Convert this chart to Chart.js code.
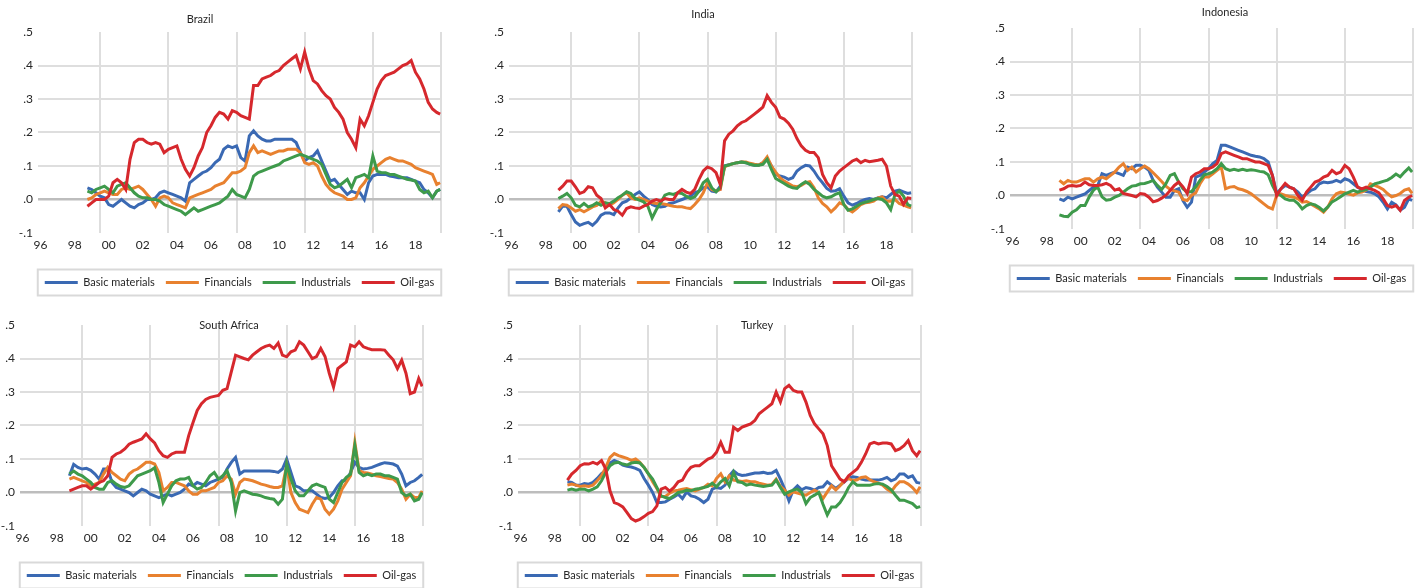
<!DOCTYPE html>
<html>
<head>
<meta charset="utf-8">
<script src="https://cdn.jsdelivr.net/npm/chart.js@4.4.1/dist/chart.umd.min.js"></script>
<style>
  html, body { margin: 0; padding: 0; background: #fff; overflow: hidden; }
  body { width: 1425px; height: 588px; position: relative; }
  canvas { position: absolute; }
</style>
</head>
<body>
<canvas id="brazil" width="500" height="300" style="left:-12px;top:0px"></canvas>
<canvas id="india" width="500" height="300" style="left:459px;top:0px"></canvas>
<canvas id="indonesia" width="500" height="300" style="left:960px;top:-4px"></canvas>
<canvas id="safrica" width="500" height="300" style="left:-30px;top:293px"></canvas>
<canvas id="turkey" width="500" height="300" style="left:468px;top:293px"></canvas>
<script>
const dates = [
  1999.25, 1999.5, 1999.75,
  2000, 2000.25, 2000.5, 2000.75, 2001, 2001.25, 2001.5, 2001.75,
  2002, 2002.25, 2002.5, 2002.75, 2003, 2003.25, 2003.5, 2003.75,
  2004, 2004.25, 2004.5, 2004.75, 2005, 2005.25, 2005.5, 2005.75,
  2006, 2006.25, 2006.5, 2006.75, 2007, 2007.25, 2007.5, 2007.75,
  2008, 2008.25, 2008.5, 2008.75, 2009, 2009.25, 2009.5, 2009.75,
  2010, 2010.25, 2010.5, 2010.75, 2011, 2011.25, 2011.5, 2011.75,
  2012, 2012.25, 2012.5, 2012.75, 2013, 2013.25, 2013.5, 2013.75,
  2014, 2014.25, 2014.5, 2014.75, 2015, 2015.25, 2015.5, 2015.75,
  2016, 2016.25, 2016.5, 2016.75, 2017, 2017.25, 2017.5, 2017.75,
  2018, 2018.25, 2018.5, 2018.75, 2019, 2019.25, 2019.5, 2019.75, 2019.95
];

const seriesNames = ['Basic materials', 'Financials', 'Industrials', 'Oil-gas'];
const seriesColors = ['#3A69B3', '#E8812F', '#3E9A4B', '#D6282D'];

const yTicks = [-0.1, 0, 0.1, 0.2, 0.3, 0.4, 0.5];
const yTickLabels = ['-.1', '.0', '.1', '.2', '.3', '.4', '.5'];
const xTickYears = [1996, 1998, 2000, 2002, 2004, 2006, 2008, 2010, 2012, 2014, 2016, 2018];
const xTickLabels = ['96', '98', '00', '02', '04', '06', '08', '10', '12', '14', '16', '18'];
const gridYears = [2000, 2004, 2008, 2012, 2016, 2020];

// Brazil
const brazilBasic = [
  0.035, 0.03, 0.02,
  0.01, 0.005, -0.015, -0.02,
  -0.01, 0.0, -0.01, -0.02,
  -0.025, -0.015, -0.01, 0.0,
  0.0, 0.005, 0.02, 0.025,
  0.02, 0.015, 0.01, 0.005,
  -0.005, 0.05, 0.06, 0.07,
  0.08, 0.085, 0.095, 0.11,
  0.12, 0.15, 0.16, 0.155,
  0.16, 0.125, 0.115, 0.19,
  0.205, 0.19, 0.18, 0.175,
  0.175, 0.18, 0.18, 0.18,
  0.18, 0.18, 0.17, 0.14,
  0.115, 0.125, 0.13, 0.145,
  0.115, 0.085, 0.055, 0.06,
  0.045, 0.03, 0.015, 0.025,
  0.02, 0.02, 0.0, 0.05,
  0.07, 0.075, 0.075, 0.075,
  0.07, 0.068, 0.065, 0.065,
  0.065, 0.06, 0.055, 0.05,
  0.03, 0.02, 0.005, 0.025, 0.03
];
const brazilFin = [
  0.0, 0.005, 0.015,
  0.02, 0.025, 0.02, 0.015,
  0.015, 0.03, 0.035, 0.03,
  0.035, 0.04, 0.03, 0.015,
  0.0, -0.02, 0.005, 0.01,
  0.005, -0.01, -0.015, -0.02,
  -0.025, 0.005, 0.01, 0.015,
  0.02, 0.025, 0.03, 0.04,
  0.045, 0.05, 0.065, 0.08,
  0.08, 0.085, 0.095, 0.14,
  0.16, 0.14, 0.145, 0.14,
  0.135, 0.14, 0.145, 0.145,
  0.15, 0.15, 0.15, 0.14,
  0.11, 0.105, 0.11, 0.1,
  0.07, 0.045, 0.03, 0.02,
  0.015, 0.01, 0.0, 0.0,
  0.005, 0.035, 0.05, 0.07,
  0.09, 0.1, 0.11, 0.12,
  0.125, 0.12, 0.115, 0.115,
  0.11, 0.105, 0.095, 0.09,
  0.085, 0.08, 0.075, 0.045, 0.05
];
const brazilInd = [
  0.025, 0.02, 0.03,
  0.035, 0.04, 0.03, 0.02,
  0.04, 0.045, 0.05, 0.035,
  0.02, 0.01, 0.005, 0.005,
  0.0, 0.0, -0.005, -0.015,
  -0.02, -0.025, -0.03, -0.035,
  -0.045, -0.035, -0.025, -0.035,
  -0.03, -0.025, -0.02, -0.015,
  -0.01, 0.0, 0.01, 0.03,
  0.015, 0.01, 0.005, 0.03,
  0.07, 0.08, 0.085, 0.09,
  0.095, 0.1, 0.105, 0.115,
  0.12, 0.125, 0.13, 0.135,
  0.13, 0.125, 0.12, 0.115,
  0.105, 0.075, 0.045, 0.035,
  0.04, 0.05, 0.06, 0.035,
  0.065, 0.07, 0.075, 0.065,
  0.13, 0.085, 0.08, 0.08,
  0.075, 0.075, 0.07, 0.065,
  0.06, 0.058, 0.055, 0.03,
  0.02, 0.025, 0.005, 0.025, 0.03
];
const brazilOil = [
  -0.02, -0.01, 0.0,
  0.0, 0.0, 0.01, 0.05,
  0.06, 0.05, 0.03, 0.12,
  0.17, 0.18, 0.18, 0.17,
  0.165, 0.17, 0.165, 0.14,
  0.15, 0.155, 0.16, 0.12,
  0.09, 0.07, 0.095, 0.13,
  0.155, 0.2, 0.22, 0.245,
  0.26, 0.255, 0.24, 0.265,
  0.26, 0.25, 0.245, 0.24,
  0.34, 0.34, 0.36, 0.365,
  0.37, 0.38, 0.385, 0.4,
  0.41, 0.42, 0.43, 0.39,
  0.44, 0.39, 0.355, 0.345,
  0.325, 0.31, 0.3, 0.275,
  0.26, 0.24, 0.2, 0.18,
  0.155, 0.24, 0.22, 0.25,
  0.29, 0.33, 0.355, 0.37,
  0.375, 0.38, 0.39, 0.4,
  0.405, 0.415, 0.38, 0.36,
  0.33, 0.29, 0.27, 0.26, 0.255
];

// India
const indiaBasic = [
  -0.037, -0.02, -0.02,
  -0.045, -0.067, -0.077, -0.072,
  -0.068, -0.077, -0.065, -0.047,
  -0.04, -0.04, -0.045, -0.025,
  -0.01, -0.005, 0.005, 0.015,
  0.023, 0.01, 0.0, -0.015,
  -0.02, -0.022, -0.02, -0.012,
  -0.01, -0.005, 0.0, 0.005,
  0.01, 0.02, 0.025, 0.035,
  0.038, 0.025, 0.023, 0.04,
  0.1, 0.104, 0.107, 0.11,
  0.112, 0.11, 0.105, 0.102,
  0.102, 0.11, 0.122, 0.1,
  0.075, 0.07, 0.067, 0.06,
  0.065, 0.085, 0.095, 0.102,
  0.1, 0.085, 0.065, 0.05,
  0.033, 0.025, 0.026, 0.032,
  0.01, -0.01, -0.017, -0.012,
  -0.005, 0.0, 0.003, 0.0,
  0.005, 0.008, 0.005, 0.015,
  0.025, 0.028, 0.023, 0.018, 0.02
];
const indiaFin = [
  -0.027, -0.015, -0.017,
  -0.025, -0.035, -0.03, -0.037,
  -0.03, -0.022, -0.018, -0.005,
  -0.01, -0.017, -0.01, 0.0,
  0.013, 0.02, 0.005, 0.0,
  0.005, 0.0, -0.005, -0.01,
  -0.012, -0.012, -0.014, -0.017,
  -0.02, -0.022, -0.022, -0.025,
  -0.027, -0.015, 0.0, 0.02,
  0.05, 0.03, 0.025, 0.03,
  0.097, 0.103, 0.107, 0.11,
  0.112, 0.112, 0.108, 0.105,
  0.103, 0.11, 0.127, 0.1,
  0.082, 0.065, 0.055, 0.048,
  0.04, 0.038, 0.042, 0.05,
  0.053, 0.035, 0.005, -0.012,
  -0.022, -0.037, -0.025, -0.01,
  -0.015, -0.03, -0.037, -0.027,
  -0.015, -0.01, -0.008, -0.005,
  0.005, 0.008, -0.005, -0.005,
  0.0, -0.012, -0.017, -0.022, -0.025
];
const indiaInd = [
  0.003, 0.01, 0.018,
  0.005, -0.017, -0.022, -0.012,
  -0.022, -0.018, -0.01, -0.017,
  -0.01, -0.012, -0.005, 0.005,
  0.013, 0.023, 0.018, 0.003,
  -0.002, -0.007, -0.02, -0.055,
  -0.03, -0.01, 0.013, 0.018,
  0.015, 0.02, 0.018, 0.01,
  0.003, 0.008, 0.025, 0.05,
  0.06, 0.035, 0.023, 0.035,
  0.1, 0.103, 0.107, 0.11,
  0.112, 0.11, 0.105, 0.102,
  0.102, 0.105, 0.12, 0.09,
  0.063, 0.055, 0.048, 0.04,
  0.035, 0.033, 0.045, 0.053,
  0.045, 0.03, 0.02, 0.01,
  0.005, 0.008, 0.015, 0.02,
  -0.015, -0.032, -0.028, -0.02,
  -0.012, -0.008, -0.005, 0.0,
  0.003, 0.0, -0.01, -0.03,
  0.015, 0.025, 0.01, -0.015, -0.02
];
const indiaOil = [
  0.028, 0.04, 0.055,
  0.055, 0.038, 0.018, 0.023,
  0.038, 0.035, 0.013, 0.003,
  -0.025, -0.015, -0.03, -0.035,
  -0.047, -0.027, -0.022, -0.025,
  -0.027, -0.02, -0.015, -0.005,
  0.0, -0.005, 0.003, 0.0,
  0.0, 0.02, 0.03, 0.022,
  0.018, 0.03, 0.06, 0.085,
  0.097, 0.092, 0.08, 0.045,
  0.175, 0.195, 0.205, 0.22,
  0.23, 0.235, 0.245, 0.255,
  0.265, 0.276, 0.31, 0.29,
  0.275, 0.246, 0.24, 0.228,
  0.21, 0.182, 0.16, 0.147,
  0.14, 0.14, 0.125, 0.075,
  0.05, 0.035, 0.07, 0.085,
  0.095, 0.105, 0.115, 0.12,
  0.11, 0.117, 0.113, 0.115,
  0.117, 0.12, 0.1, 0.04,
  0.015, 0.01, -0.015, 0.005, 0.003
];

// Indonesia
const indonesiaBasic = [
  -0.01, -0.015, -0.005,
  -0.01, -0.005, 0.0, 0.005,
  0.015, 0.025, 0.03, 0.065,
  0.06, 0.065, 0.07, 0.065,
  0.06, 0.085, 0.08, 0.09,
  0.09, 0.085, 0.075, 0.045,
  0.025, 0.01, -0.005, -0.005,
  0.015, 0.02, -0.015, -0.035,
  -0.02, 0.055, 0.06, 0.07,
  0.08, 0.095, 0.105, 0.15,
  0.15, 0.145, 0.14, 0.135,
  0.13, 0.125, 0.12, 0.117,
  0.115, 0.11, 0.1, 0.06,
  0.006, 0.02, 0.03, 0.025,
  0.02, 0.01, -0.005, 0.005,
  0.015, 0.02, 0.035, 0.04,
  0.038, 0.04, 0.045, 0.04,
  0.05, 0.045, 0.035, 0.025,
  0.018, 0.012, 0.01, 0.005,
  -0.004, -0.02, -0.04, -0.02,
  -0.028, -0.044, -0.035, -0.01, -0.015
];
const indonesiaFin = [
  0.045, 0.035, 0.045,
  0.04, 0.04, 0.045, 0.05,
  0.05, 0.04, 0.05, 0.055,
  0.05, 0.06, 0.07, 0.085,
  0.095, 0.075, 0.085, 0.07,
  0.08, 0.088, 0.08, 0.068,
  0.055, 0.042, 0.028, 0.018,
  0.014, 0.01, -0.012, -0.015,
  0.0, 0.008, 0.035, 0.055,
  0.055, 0.065, 0.075, 0.085,
  0.02, 0.025, 0.027, 0.02,
  0.017, 0.012, 0.005, -0.005,
  -0.015, -0.025, -0.035, -0.04,
  0.0, 0.005, 0.0, -0.003,
  -0.005, -0.01, -0.02, -0.018,
  -0.025, -0.033, -0.04, -0.05,
  -0.035, -0.01, 0.005, 0.01,
  0.008, 0.004, 0.001, 0.008,
  0.01, 0.016, 0.035, 0.03,
  0.025, 0.018, 0.006, -0.004,
  0.0, 0.006, 0.016, 0.02, 0.006
];
const indonesiaInd = [
  -0.058, -0.062, -0.063,
  -0.05, -0.043, -0.03, -0.03,
  -0.004, 0.016, 0.025, -0.004,
  -0.014, -0.012, -0.005, 0.0,
  0.01, 0.02, 0.028, 0.03,
  0.035, 0.036, 0.04, 0.045,
  0.03, 0.018, 0.035, 0.06,
  0.065, 0.04, 0.02, 0.01,
  0.012, 0.026, 0.045, 0.062,
  0.065, 0.07, 0.08, 0.095,
  0.08, 0.075, 0.078, 0.075,
  0.078, 0.075, 0.077, 0.075,
  0.072, 0.07, 0.062, 0.03,
  0.006, 0.0, -0.01, -0.014,
  -0.014, -0.024, -0.04, -0.03,
  -0.025, -0.028, -0.036, -0.046,
  -0.034, -0.019, -0.012, -0.004,
  0.005, 0.01, 0.015, 0.01,
  0.015, 0.018, 0.025, 0.035,
  0.038, 0.042, 0.046, 0.054,
  0.064, 0.056, 0.07, 0.082, 0.07
];
const indonesiaOil = [
  0.016, 0.02, 0.028,
  0.03, 0.028, 0.03, 0.04,
  0.032, 0.03, 0.03, 0.032,
  0.036, 0.03, 0.016, 0.02,
  0.006, 0.003, 0.0, -0.004,
  0.006, 0.004, -0.005, -0.019,
  -0.015, -0.008, 0.001, 0.015,
  0.03, 0.04, 0.026, 0.006,
  0.055, 0.065, 0.07, 0.08,
  0.08, 0.085, 0.095, 0.125,
  0.13, 0.125, 0.12, 0.115,
  0.11, 0.11, 0.105, 0.1,
  0.1, 0.095, 0.09, 0.06,
  0.0, 0.02, 0.036, 0.025,
  0.02, 0.0, -0.014, 0.01,
  0.025, 0.04, 0.045, 0.055,
  0.06, 0.075, 0.065, 0.07,
  0.09, 0.08, 0.055, 0.025,
  0.02, 0.025, 0.02, 0.015,
  0.008, -0.01, -0.03, -0.035,
  -0.03, -0.044, -0.015, -0.005, 0.0
];

// South Africa
const saBasic = [
  0.05, 0.084, 0.075,
  0.07, 0.072, 0.066, 0.055,
  0.04, 0.07, 0.07, 0.03,
  0.015, 0.01, 0.005, 0.0,
  -0.01, 0.0, 0.01, 0.005,
  -0.005, -0.01, -0.015, -0.01,
  -0.005, -0.01, -0.005, 0.0,
  0.01, 0.025, 0.02, 0.03,
  0.025, 0.02, 0.03, 0.035,
  0.04, 0.045, 0.07, 0.09,
  0.105, 0.055, 0.064, 0.064,
  0.064, 0.064, 0.064, 0.064,
  0.064, 0.063, 0.06, 0.07,
  0.1, 0.06, 0.02, 0.015,
  0.005, 0.005, 0.005, -0.005,
  -0.015, -0.018, -0.015, 0.0,
  0.02, 0.035, 0.035, 0.06,
  0.09, 0.075, 0.07, 0.072,
  0.075, 0.08, 0.085, 0.089,
  0.087, 0.085, 0.079, 0.055,
  0.02, 0.03, 0.035, 0.045, 0.054
];
const saFin = [
  0.04, 0.045, 0.04,
  0.035, 0.03, 0.02, 0.025,
  0.03, 0.055, 0.075, 0.06,
  0.05, 0.04, 0.035, 0.055,
  0.065, 0.07, 0.08, 0.09,
  0.09, 0.085, 0.06, 0.005,
  0.015, 0.03, 0.03, 0.025,
  0.02, 0.005, -0.005, -0.005,
  0.005, 0.005, 0.01, 0.015,
  0.03, 0.035, 0.05, 0.04,
  -0.005, 0.03, 0.04, 0.038,
  0.035, 0.03, 0.025, 0.022,
  0.018, 0.015, 0.015, 0.02,
  0.08, 0.0, -0.03, -0.05,
  -0.055, -0.06, -0.035, -0.015,
  -0.02, -0.05, -0.065, -0.05,
  -0.025, 0.01, 0.03, 0.05,
  0.15, 0.065, 0.06, 0.058,
  0.055, 0.05, 0.048, 0.045,
  0.042, 0.04, 0.03, 0.01,
  -0.02, -0.005, -0.015, -0.015, 0.005
];
const saInd = [
  0.055, 0.064, 0.055,
  0.05, 0.04, 0.03, 0.015,
  0.01, 0.01, 0.03, 0.035,
  0.025, 0.018, 0.015, 0.02,
  0.035, 0.05, 0.055, 0.06,
  0.065, 0.074, 0.03, -0.03,
  -0.005, 0.02, 0.035, 0.04,
  0.04, 0.045, 0.02, 0.01,
  0.015, 0.03, 0.05, 0.06,
  0.04, 0.05, 0.065, 0.03,
  -0.055, 0.0, 0.005, 0.0,
  -0.005, -0.007, -0.01, -0.015,
  -0.018, -0.02, -0.035, -0.02,
  0.085, 0.04, 0.005, -0.01,
  -0.01, 0.005, 0.02, 0.025,
  0.02, 0.015, -0.02, -0.03,
  0.0, 0.03, 0.045, 0.055,
  0.14, 0.06, 0.05, 0.055,
  0.05, 0.055, 0.055, 0.05,
  0.05, 0.045, 0.04, 0.0,
  -0.01, -0.005, -0.025, -0.02, 0.0
];
const saOil = [
  0.005, 0.01, 0.015,
  0.02, 0.02, 0.01, 0.02,
  0.03, 0.035, 0.05, 0.105,
  0.115, 0.12, 0.13, 0.144,
  0.15, 0.155, 0.16, 0.175,
  0.16, 0.148, 0.125, 0.11,
  0.105, 0.115, 0.12, 0.12,
  0.12, 0.17, 0.208, 0.245,
  0.265, 0.278, 0.284, 0.287,
  0.29, 0.305, 0.31, 0.36,
  0.41, 0.405, 0.4, 0.396,
  0.41, 0.42, 0.43, 0.436,
  0.44, 0.43, 0.446, 0.41,
  0.405, 0.42, 0.425, 0.45,
  0.44, 0.42, 0.4, 0.406,
  0.43, 0.406, 0.356, 0.315,
  0.37, 0.38, 0.39, 0.44,
  0.435, 0.45, 0.435, 0.43,
  0.426, 0.426, 0.426, 0.425,
  0.41, 0.396, 0.37, 0.395,
  0.356, 0.295, 0.3, 0.34, 0.317
];

// Turkey
const turkeyBasic = [
  0.032, 0.03, 0.022,
  0.022, 0.027, 0.025, 0.03,
  0.042, 0.056, 0.065, 0.088,
  0.096, 0.09, 0.082, 0.078,
  0.076, 0.072, 0.066, 0.042,
  0.022, 0.0, -0.03, -0.03,
  -0.028, -0.02, -0.013, -0.005,
  -0.018, 0.002, -0.01, -0.013,
  -0.02, -0.03, -0.02, 0.01,
  0.015, 0.012, 0.022, 0.05,
  0.065, 0.055, 0.051, 0.052,
  0.055, 0.058, 0.058, 0.06,
  0.057, 0.058, 0.066, 0.04,
  0.01, -0.025, 0.007, 0.02,
  0.008, 0.015, 0.012, 0.007,
  0.015, 0.017, 0.032, 0.022,
  0.012, 0.022, 0.032, 0.042,
  0.047, 0.045, 0.04, 0.037,
  0.037, 0.037, 0.037, 0.04,
  0.045, 0.035, 0.04, 0.055,
  0.055, 0.045, 0.05, 0.03, 0.028
];
const turkeyFin = [
  0.022, 0.025, 0.022,
  0.018, 0.02, 0.018, 0.022,
  0.035, 0.05, 0.075, 0.105,
  0.116, 0.11, 0.106, 0.102,
  0.096, 0.1, 0.09, 0.075,
  0.056, 0.032, 0.012, -0.012,
  -0.012, -0.002, 0.005, 0.007,
  0.01, 0.012, 0.008, 0.005,
  0.01, 0.015, 0.025, 0.02,
  0.042, 0.056, 0.032, 0.05,
  0.037, 0.035, 0.033, 0.035,
  0.032, 0.032, 0.028, 0.025,
  0.022, 0.024, 0.04, 0.018,
  0.007, -0.008, 0.002, -0.002,
  -0.005, -0.008, 0.0, 0.007,
  0.0, -0.018, 0.002, 0.02,
  0.008, 0.02, 0.035, 0.042,
  0.035, 0.038, 0.045, 0.047,
  0.038, 0.032, 0.028, 0.022,
  0.01, 0.002, 0.02, 0.032,
  0.032, 0.025, 0.015, 0.0, 0.017
];
const turkeyInd = [
  0.007, 0.01, 0.007,
  0.01, 0.01, 0.005, 0.01,
  0.017, 0.035, 0.06, 0.08,
  0.088, 0.09, 0.085, 0.082,
  0.088, 0.09, 0.088, 0.075,
  0.056, 0.04, 0.015, -0.01,
  -0.015, -0.018, -0.01, 0.0,
  0.002, 0.007, 0.005, 0.01,
  0.012, 0.015, 0.018, 0.028,
  0.017, 0.032, 0.042, 0.02,
  0.06, 0.032, 0.03, 0.022,
  0.025, 0.022, 0.02, 0.018,
  0.02, 0.022, 0.037, 0.015,
  -0.005, 0.002, 0.007, 0.01,
  0.0, -0.033, -0.015, -0.008,
  0.0, -0.035, -0.067, -0.043,
  -0.043, -0.03, -0.01, 0.015,
  0.032, 0.022, 0.022, 0.022,
  0.022, 0.025, 0.027, 0.025,
  0.018, 0.008, -0.008, -0.023,
  -0.023, -0.028, -0.033, -0.045, -0.042
];
const turkeyOil = [
  0.037, 0.055, 0.066,
  0.08, 0.086, 0.085, 0.09,
  0.085, 0.095, 0.07, 0.005,
  -0.03, -0.035, -0.043, -0.06,
  -0.078, -0.085, -0.08, -0.072,
  -0.062, -0.057, -0.04, 0.01,
  0.015, 0.004, 0.015, 0.032,
  0.037, 0.06, 0.075, 0.08,
  0.08, 0.09, 0.1, 0.105,
  0.12, 0.15, 0.12, 0.12,
  0.195, 0.185, 0.195, 0.2,
  0.205, 0.215, 0.235, 0.245,
  0.255, 0.265, 0.3, 0.27,
  0.31, 0.32, 0.305, 0.3,
  0.3, 0.27, 0.23, 0.205,
  0.19, 0.175, 0.14, 0.08,
  0.06, 0.04, 0.032, 0.05,
  0.06, 0.07, 0.09, 0.115,
  0.145, 0.15, 0.145, 0.148,
  0.148, 0.145, 0.125, 0.13,
  0.14, 0.155, 0.125, 0.11, 0.125
];

const FONT = 'Lato, "Liberation Sans", sans-serif';
const TEXT = '#262626';

const panels = [
  { id: 'brazil', title: 'Brazil', tx: 212, ty: 19, series: [brazilBasic, brazilFin, brazilInd, brazilOil] },
  { id: 'india', title: 'India', tx: 244, ty: 14, series: [indiaBasic, indiaFin, indiaInd, indiaOil] },
  { id: 'indonesia', title: 'Indonesia', tx: 265, ty: 16, series: [indonesiaBasic, indonesiaFin, indonesiaInd, indonesiaOil] },
  { id: 'safrica', title: 'South Africa', tx: 259, ty: 32, series: [saBasic, saFin, saInd, saOil] },
  { id: 'turkey', title: 'Turkey', tx: 289, ty: 32, series: [turkeyBasic, turkeyFin, turkeyInd, turkeyOil] }
];

// title text placed where the original has it (not centred on the plot)
const panelTitle = {
  id: 'panelTitle',
  afterDraw(chart, args, opts) {
    const ctx = chart.ctx;
    ctx.save();
    ctx.font = '11px ' + FONT;
    ctx.fillStyle = TEXT;
    ctx.textAlign = 'center';
    ctx.textBaseline = 'middle';
    ctx.fillText(opts.text, opts.x, opts.y);
    ctx.restore();
  }
};

// thin grey frame around the legend row
const legendFrame = {
  id: 'legendFrame',
  afterDraw(chart) {
    const boxes = chart.legend.legendHitBoxes;
    if (!boxes || !boxes.length) return;
    const left = Math.min(...boxes.map(b => b.left)) - 7;
    const right = Math.max(...boxes.map(b => b.left + b.width)) + 7;
    const top = Math.min(...boxes.map(b => b.top)) - 7.5;
    const bottom = Math.max(...boxes.map(b => b.top + b.height)) + 7.5;
    const ctx = chart.ctx;
    ctx.save();
    ctx.strokeStyle = '#d9d9d9';
    ctx.lineWidth = 2;
    ctx.strokeRect(left, top, right - left, bottom - top);
    ctx.restore();
  }
};

function near(a, b) { return Math.abs(a - b) < 1e-6; }

function makeChart(p) {
  new Chart(document.getElementById(p.id), {
    type: 'line',
    data: {
      datasets: p.series.map((vals, i) => ({
        label: seriesNames[i],
        data: vals.map((v, j) => ({ x: dates[j], y: v })),
        borderColor: seriesColors[i],
        backgroundColor: seriesColors[i],
        borderWidth: 3,
        pointRadius: 0,
        tension: 0,
        order: 4 - i
      }))
    },
    options: {
      responsive: false,
      animation: false,
      events: [],
      layout: { padding: { left: 30, right: 27, top: 32, bottom: 2 } },
      plugins: {
        tooltip: { enabled: false },
        legend: {
          position: 'bottom',
          labels: {
            boxWidth: 33,
            boxHeight: 3,
            padding: 11,
            color: TEXT,
            font: { family: FONT, size: 11 },
            sort: (a, b) => a.datasetIndex - b.datasetIndex,
            generateLabels: chart => Chart.defaults.plugins.legend.labels.generateLabels(chart)
              .map(l => Object.assign(l, { lineWidth: 0 }))
          }
        },
        panelTitle: { text: p.title, x: p.tx, y: p.ty }
      },
      scales: {
        x: {
          type: 'linear',
          position: 'bottom',
          min: 1996.35,
          max: 2020,
          afterBuildTicks: s => { s.ticks = xTickYears.map(y => ({ value: y + 0.5 })); },
          afterFit: s => { s.height = 33; },
          ticks: {
            autoSkip: false,
            maxRotation: 0,
            padding: 5,
            color: TEXT,
            font: { family: FONT, size: 12 },
            callback: (v, i) => xTickLabels[i]
          },
          grid: { display: false, drawTicks: false },
          border: { display: false }
        },
        xg: {
          type: 'linear',
          position: 'bottom',
          min: 1996.35,
          max: 2020,
          afterBuildTicks: s => { s.ticks = gridYears.map(y => ({ value: y })); },
          afterFit: s => { s.height = 0; },
          ticks: { display: false },
          grid: { color: '#dedede', lineWidth: 2, drawTicks: false },
          border: { display: false }
        },
        y: {
          type: 'linear',
          min: -0.1,
          max: 0.5,
          afterBuildTicks: s => { s.ticks = yTicks.map(v => ({ value: v })); },
          afterFit: s => { s.width = 20; },
          ticks: {
            padding: 5,
            color: TEXT,
            font: { family: FONT, size: 12 },
            callback: (v, i) => yTickLabels[i]
          },
          grid: {
            drawTicks: false,
            color: c => {
              const v = c.tick ? c.tick.value : null;
              if (v === null || near(v, 0.5) || near(v, -0.1)) return 'rgba(0,0,0,0)';
              return near(v, 0) ? '#bdbdbd' : '#dedede';
            },
            lineWidth: c => (c.tick && near(c.tick.value, 0)) ? 2.5 : 2
          },
          border: { display: false }
        },
        yr: {
          type: 'linear',
          position: 'right',
          afterFit: s => { s.width = 20; },
          ticks: { display: false },
          grid: { display: false },
          border: { display: false }
        }
      }
    },
    plugins: [panelTitle, legendFrame]
  });
}

panels.forEach(makeChart);
</script>
</body>
</html>
